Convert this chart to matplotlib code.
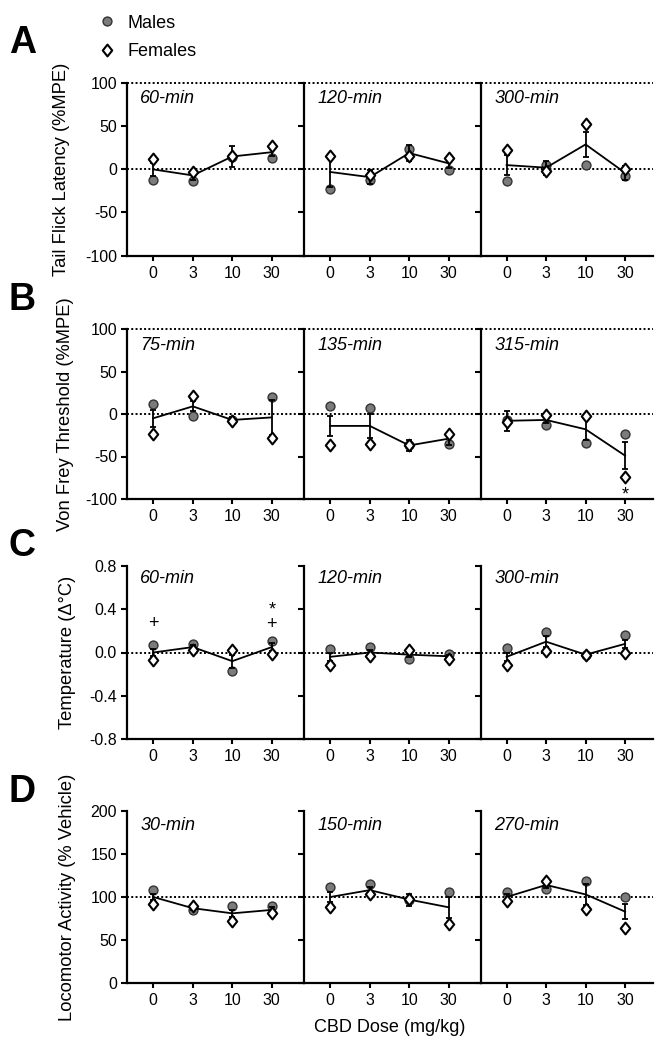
import numpy as np
import matplotlib
matplotlib.use("Agg")
import matplotlib.pyplot as plt
from matplotlib.lines import Line2D
from matplotlib.path import Path

plt.rcParams['font.family'] = ['Liberation Sans', 'DejaVu Sans']
plt.rcParams['axes.unicode_minus'] = False

# ---------------- data ----------------
doses = ["0", "3", "10", "30"]

# Panel A: Tail flick latency (%MPE)
a_times = ["60-min", "120-min", "300-min"]
a_males = [[-12, -13, 14, 13], [-23, -12, 24, -1], [-14, 5, 5, -8]]
a_females = [[12, -3, 15, 27], [16, -7, 15, 13], [22, -2, 53, 1]]
a_mean = [[0, -7, 15, 20], [-3, -9, 19, 7], [5, 2, 29, -4]]
a_sem = [[8, 5, 12, 5], [18, 8, 9, 5], [12, 8, 15, 8]]

# Panel B: Von Frey threshold (%MPE)
b_times = ["75-min", "135-min", "315-min"]
b_males = [[12, -2, -7, 20], [9, 7, -36, -35], [-7, -13, -34, -24]]
b_females = [[-23, 21, -8, -28], [-37, -35, -37, -23], [-9, -1, -2, -74]]
b_mean = [[-5, 9, -7, -4], [-14, -14, -37, -29], [-8, -7, -18, -49]]
b_sem = [[10, 6, 4, 21], [12, 14, 6, 7], [12, 4, 12, 16]]

# Panel C: Temperature (delta C)
c_times = ["60-min", "120-min", "300-min"]
c_males = [[0.07, 0.08, -0.17, 0.11], [0.03, 0.05, -0.06, -0.01], [0.04, 0.19, -0.02, 0.16]]
c_females = [[-0.07, 0.02, 0.02, -0.01], [-0.12, -0.03, 0.02, -0.06], [-0.12, 0.01, -0.02, 0.00]]
c_mean = [[0.0, 0.05, -0.08, 0.05], [-0.04, 0.0, -0.02, -0.035], [-0.04, 0.10, -0.02, 0.08]]
c_sem = [[0.03, 0.02, 0.06, 0.04], [0.04, 0.02, 0.02, 0.01], [0.04, 0.05, 0.01, 0.04]]

# Panel D: Locomotor activity (% vehicle)
d_times = ["30-min", "150-min", "270-min"]
d_males = [[108, 85, 90, 89], [112, 115, 97, 106], [106, 109, 119, 100]]
d_females = [[92, 89, 72, 81], [88, 103, 98, 69], [95, 119, 86, 64]]
d_mean = [[100, 87, 81, 85], [100, 108, 97, 88], [100, 114, 103, 83]]
d_sem = [[3, 2, 4, 3], [6, 4, 7, 12], [3, 4, 12, 9]]

# significance marks: (segment, dose index, y, symbol)
b_marks = [(2, 3, -95, "*")]
c_marks = [(0, 0, 0.27, "+"), (0, 3, 0.325, "*\n+")]

# ---------------- layout ----------------
W, H = 672, 1050
fig = plt.figure(figsize=(W / 100, H / 100), dpi=100)

LEFT = 127.4
SPACING = 39.5
XLIMS = [(-0.655, 3.825), (-0.655, 3.825), (-0.64, 3.70)]

diamond = Path([(0, 1), (0.8, 0), (0, -1), (-0.8, 0), (0, 1)],
               [Path.MOVETO, Path.LINETO, Path.LINETO, Path.LINETO, Path.CLOSEPOLY])

MALE_FC = "#7b7b7b"
MALE_EC = "#333333"

dot_style = (0, (1.0, 1.2))


def draw_row(top, bottom, times, males, females, mean, sem, ylim, yticks, yticklabels,
             ylabel, ylabel_x, ref, top_ref, marks, time_base):
    x0 = LEFT
    xs = np.arange(len(doses))
    axes = []
    for i, (lo, hi) in enumerate(XLIMS):
        w = (hi - lo) * SPACING
        ax = fig.add_axes([x0 / W, 1 - bottom / H, w / W, (bottom - top) / H])
        x0 += w
        ax.set_xlim(lo, hi)
        ax.set_ylim(*ylim)
        ax.patch.set_alpha(0)
        for s in ("top", "right"):
            ax.spines[s].set_visible(False)
        for s in ("left", "bottom"):
            ax.spines[s].set_linewidth(1.6)
        ax.set_xticks(xs)
        ax.set_xticklabels(doses)
        ax.set_yticks(yticks)
        ax.set_yticklabels(yticklabels)
        ax.tick_params(axis="y", direction="out", length=4.3, width=1.5, pad=3.2,
                       labelsize=11.5, labelleft=(i == 0))
        ax.tick_params(axis="x", direction="out", length=3.6, width=1.5, pad=3.6,
                       labelsize=11.5)
        ax.axhline(ref, color="black", ls=dot_style, lw=1.4, zorder=1)
        if top_ref is not None:
            ax.axhline(top_ref, color="black", ls=dot_style, lw=1.4, zorder=1, clip_on=False)
        ax.plot(xs, males[i], ls="none", marker="o", ms=6.4, mfc=MALE_FC, mec=MALE_EC,
                mew=1.0, zorder=3, clip_on=False)
        ax.errorbar(xs, mean[i], yerr=sem[i], color="black", lw=1.3, elinewidth=1.3,
                    capsize=2.0, capthick=1.3, zorder=4, clip_on=False)
        ax.plot(xs, females[i], ls="none", marker=diamond, ms=8.5, mfc="white",
                mec="black", mew=1.5, zorder=5, clip_on=False)
        ax.annotate(times[i], xy=(0, 1), xycoords="axes fraction",
                    xytext=(9.2, -time_base * 0.72), textcoords="offset points",
                    ha="left", va="baseline", fontsize=13, style="italic")
        for (seg, di, yv, sym) in marks:
            if seg == i:
                ax.text(xs[di], yv, sym, ha="center", va="center", fontsize=13,
                        linespacing=0.75)
        axes.append(ax)
    fig.text(ylabel_x / W, 1 - (top + bottom) / 2 / H, ylabel, rotation=90,
             ha="center", va="center", fontsize=13.2)
    return axes


axA = draw_row(83.3, 255.5, a_times, a_males, a_females, a_mean, a_sem, (-100, 100),
               [-100, -50, 0, 50, 100], ["-100", "-50", "0", "50", "100"],
               "Tail Flick Latency (%MPE)", 62, 0, 100, [], 20)
axB = draw_row(329, 499, b_times, b_males, b_females, b_mean, b_sem, (-100, 100),
               [-100, -50, 0, 50, 100], ["-100", "-50", "0", "50", "100"],
               "Von Frey Threshold (%MPE)", 65, 0, 100, b_marks, 21)
axC = draw_row(566, 739, c_times, c_males, c_females, c_mean, c_sem, (-0.8, 0.8),
               [-0.8, -0.4, 0.0, 0.4, 0.8], ["-0.8", "-0.4", "0.0", "0.4", "0.8"],
               "Temperature (\u0394\u00b0C)", 68, 0, None, c_marks, 17)
axD = draw_row(811, 983, d_times, d_males, d_females, d_mean, d_sem, (0, 200),
               [0, 50, 100, 150, 200], ["0", "50", "100", "150", "200"],
               "Locomotor Activity (% Vehicle)", 68, 100, None, [], 19)

fig.text((127.4 + 652.8) / 2 / W, 1 - 1027 / H, "CBD Dose (mg/kg)", ha="center",
         va="center", fontsize=13)

# panel letters
for letter, (lx, ly) in zip("ABCD", [(22.5, 43.5), (22, 300), (22, 546), (22, 792)]):
    fig.text(lx / W, 1 - ly / H, letter, ha="center", va="center", fontsize=27,
             fontweight="bold")

# legend
h_m = Line2D([], [], ls="none", marker="o", ms=6.4, mfc=MALE_FC, mec=MALE_EC, mew=1.0)
h_f = Line2D([], [], ls="none", marker=diamond, ms=8.5, mfc="white", mec="black", mew=1.5)
fig.legend([h_m, h_f], ["Males", "Females"], loc="upper left",
           bbox_to_anchor=(99.6 / W, 1 - 14.7 / H), frameon=False, fontsize=13,
           handlelength=0.8, handletextpad=0.74, labelspacing=0.63, borderpad=0,
           borderaxespad=0)

fig.savefig("out.png", dpi=100)
